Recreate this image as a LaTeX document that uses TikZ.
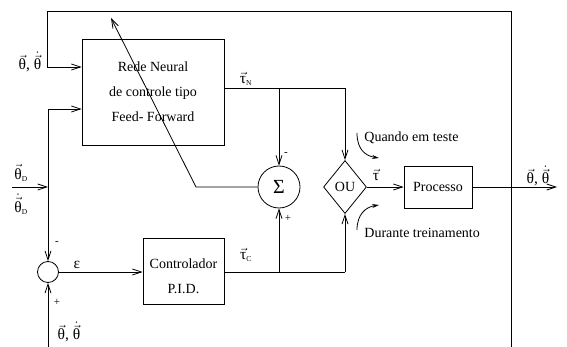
\documentclass[tikz,border=0pt]{standalone}
\usepackage{fontspec}
\setmainfont{Liberation Serif}
\usetikzlibrary{arrows.meta,shapes.geometric}
\newcommand\vth{$\vec{\mbox{θ}}$}
\newcommand\vthd{$\dot{\vec{\mbox{θ}}}$}
\newcommand\subsz[1]{{\fontsize{7.5}{8}\selectfont #1}}
\begin{document}
\begin{tikzpicture}[x=1pt,y=-1pt, line width=0.8pt,
  font=\fontsize{14}{16}\selectfont,
  >={Straight Barb[length=9pt,width=6pt]},
  blk/.style={draw, inner sep=0pt},
  lbl/.style={inner sep=0pt, font=\fontsize{15.5}{17}\selectfont},
  sgn/.style={inner sep=0pt, font=\fontsize{11}{12}\selectfont},
  curv/.style={-{Stealth[length=7pt,width=4pt]}}]
\useasboundingbox (0,0) rectangle (567,347);
% blocks
\node[blk, minimum width=142pt, minimum height=106pt, align=center, font=\fontsize{14}{25}\selectfont] (nn) at (153,92) {Rede Neural\\de controle tipo\\Feed- Forward};
\node[blk, minimum width=81pt, minimum height=66pt] (pid) at (183.5,271) {};
\node[inner sep=0pt, align=center, font=\fontsize{14}{25}\selectfont] (pidt) at (183.5,276.5) {Controlador\\P.I.D.};
\node[blk, minimum width=68pt, minimum height=42pt] (proc) at (438,187) {Processo};
\node[draw, circle, minimum size=42pt, inner sep=0pt, font=\fontsize{20}{20}\selectfont] (sig) at (279,187) {Σ};
\node[draw, circle, minimum size=21pt, inner sep=0pt] (ec) at (48,272) {};
\node[draw, diamond, minimum width=43pt, minimum height=53pt, inner sep=0pt] (ou) at (345,187) {OU};
% coordinates
\coordinate (fB) at (511,347);
\coordinate (fTR) at (511,11);
\coordinate (fTL) at (47,11);
\coordinate (fIn) at (47,67);
\coordinate (lTop) at (48,109);
\coordinate (dIn) at (12,187);
\coordinate (bIn) at (48,347);
\coordinate (tnE) at (345,88);
\coordinate (tnS) at (279,88);
\coordinate (tcE) at (345,272);
\coordinate (tcS) at (279,272);
\coordinate (dg) at (196,187);
\coordinate (dgT) at (111,18);
\coordinate (outE) at (557,187);
\coordinate (qa) at (357,133);
\coordinate (qb) at (379,158);
\coordinate (da) at (357,230);
\coordinate (db) at (379,205);
% connectors
\draw[->] (fB) -- (fTR) -- (fTL) -- (fIn) -- (fIn -| nn.west);
\draw[->] (lTop) -- (lTop -| nn.west);
\draw[->] (lTop) -- (ec.north);
\draw[->] (dIn) -- (dIn -| ec.north);
\draw[->] (bIn) -- (ec.south);
\draw[->] (ec.east) -- (ec.east -| pid.west);
\draw (nn.east |- tnE) -- (tnE);
\draw[->] (tnE) -- (ou.north);
\draw[->] (tnS) -- (sig.north);
\draw (pid.east |- tcE) -- (tcE);
\draw[->] (tcE) -- (ou.south);
\draw[->] (tcS) -- (sig.south);
\draw[->] (sig.west) -- (dg) -- (dgT);
\draw[->] (ou.east) -- (proc.west);
\draw[->] (proc.east) -- (outE);
\draw[curv] (qa) .. controls (357,150) and (366,156) .. (qb);
\draw[curv] (da) .. controls (357,214) and (366,207) .. (db);
% labels
\node[lbl] (l1) at (30,62) {\vth,\ \vthd};
\node[lbl] (l2) at (21,173) {$\vec{\mbox{θ}}_{\mbox{\subsz{D}}}$};
\node[lbl] (l3) at (21,204) {$\dot{\vec{\mbox{θ}}}_{\mbox{\subsz{D}}}$};
\node[lbl] (l4) at (246,79) {$\vec{\mbox{τ}}_{\mbox{\subsz{N}}}$};
\node[lbl] (l5) at (246,255) {$\vec{\mbox{τ}}_{\mbox{\subsz{C}}}$};
\node[lbl] (l6) at (77,265) {ε};
\node[lbl] (l7) at (376,175) {$\vec{\mbox{τ}}$};
\node[lbl] (l8) at (538,176) {\vth,\ \vthd};
\node[lbl] (l9) at (69,332) {\vth,\ \vthd};
\node[inner sep=0pt, anchor=west] (q) at (364,138) {Quando em teste};
\node[inner sep=0pt, anchor=west] (d) at (364,233) {Durante treinamento};
\node[sgn] (s1) at (286,154) {-};
\node[sgn] (s2) at (288,218) {+};
\node[sgn] (s3) at (57,243) {-};
\node[sgn] (s4) at (57,302) {+};
\end{tikzpicture}
\end{document}
